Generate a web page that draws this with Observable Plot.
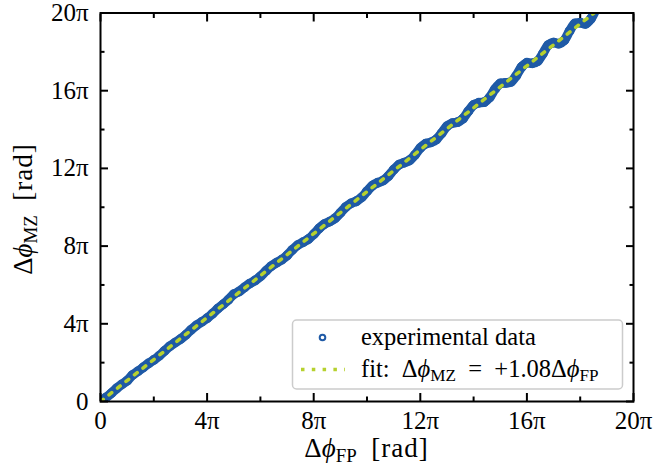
<!DOCTYPE html>
<html><head><meta charset="utf-8">
<script src="https://cdn.jsdelivr.net/npm/d3@7"></script>
<script src="https://cdn.jsdelivr.net/npm/@observablehq/plot@0.6"></script>
<style>body{margin:0;background:#fff;}</style>
</head><body><div id="chart"></div>
<script>
// Δφ_FP values (units of π)
const xFP = [0,0.2,0.4,0.6,0.8,1.0,1.2,1.4,1.6,1.8,2.0,2.2,2.4,2.6,2.8,3.0,3.2,3.4,3.6,3.8,
  4.0,4.2,4.4,4.6,4.8,5.0,5.2,5.4,5.6,5.8,6.0,6.2,6.4,6.6,6.8,7.0,7.2,7.4,7.6,7.8,
  8.0,8.2,8.4,8.6,8.8,9.0,9.2,9.4,9.6,9.8,10.0,10.2,10.4,10.6,10.8,11.0,11.2,11.4,11.6,11.8,
  12.0,12.2,12.4,12.6,12.8,13.0,13.2,13.4,13.6,13.8,14.0,14.2,14.4,14.6,14.8,15.0,15.2,15.4,15.6,15.8,
  16.0,16.2,16.4,16.6,16.8,17.0,17.2,17.4,17.6,17.8,18.0,18.2,18.4,18.6];
// Δφ_MZ values (units of π)
const yMZ = [0.00,0.20,0.42,0.67,0.88,1.07,1.36,1.55,1.75,1.96,2.14,2.35,2.60,2.84,3.03,3.21,3.43,3.69,3.92,4.10,
  4.29,4.52,4.78,5.00,5.24,5.52,5.66,5.87,6.07,6.23,6.44,6.71,6.96,7.14,7.30,7.52,7.81,8.05,8.20,8.36,
  8.61,8.91,9.13,9.26,9.43,9.71,10.01,10.20,10.31,10.51,10.82,11.11,11.26,11.37,11.60,11.93,12.19,12.30,12.42,12.70,
  13.05,13.27,13.34,13.49,13.81,14.17,14.33,14.38,14.56,14.94,15.27,15.38,15.41,15.65,16.08,16.37,16.40,16.45,16.77,17.22,
  17.44,17.41,17.51,17.91,18.35,18.48,18.42,18.59,19.07,19.46,19.50,19.44,19.70,20.23];
const fitSlope = 1.08;
const fitRange = [0, 20];
const majorTicks = [0, 4, 8, 12, 16, 20];
const minorTicks = [2, 6, 10, 14, 18];
const tickLabel = d => d === 0 ? "0" : `${d}π`;

const data = xFP.map((x, i) => ({x, y: yMZ[i]}));
const fit = fitRange.map(x => ({x, y: fitSlope * x}));

const blue = "#1f5aa6", lime = "#b6d12e";
const dash = "3.5,7.3";
const serif = "'Liberation Serif', 'DejaVu Serif', serif";

const plot = Plot.plot({
  width: 655, height: 476,
  marginLeft: 100, marginRight: 22, marginTop: 12.5, marginBottom: 75,
  style: {fontFamily: serif, fontSize: "25px", background: "white", color: "black"},
  x: {domain: [0, 20]},
  y: {domain: [0, 20]},
  marks: [
    Plot.line(data, {x: "x", y: "y", stroke: blue, strokeWidth: 9.5, curve: "catmull-rom", clip: true}),
    Plot.dot(data, {x: "x", y: "y", r: 3.7, stroke: blue, strokeWidth: 2.4, fill: "none", clip: true}),
    Plot.line(fit, {x: "x", y: "y", stroke: lime, strokeWidth: 3.5, strokeDasharray: dash, clip: true}),
    Plot.axisX({ticks: majorTicks, anchor: "bottom", tickSize: -8, tickFormat: () => "", label: null, strokeWidth: 2}),
    Plot.axisX({ticks: minorTicks, anchor: "bottom", tickSize: -4.5, tickFormat: () => "", label: null, strokeWidth: 2}),
    Plot.axisX({ticks: majorTicks, anchor: "top", tickSize: -8, tickFormat: () => "", label: null, strokeWidth: 2}),
    Plot.axisX({ticks: minorTicks, anchor: "top", tickSize: -4.5, tickFormat: () => "", label: null, strokeWidth: 2}),
    Plot.axisY({ticks: majorTicks, anchor: "left", tickSize: -8, tickFormat: () => "", label: null, strokeWidth: 2}),
    Plot.axisY({ticks: minorTicks, anchor: "left", tickSize: -4.5, tickFormat: () => "", label: null, strokeWidth: 2}),
    Plot.axisY({ticks: majorTicks, anchor: "right", tickSize: -8, tickFormat: () => "", label: null, strokeWidth: 2}),
    Plot.axisY({ticks: minorTicks, anchor: "right", tickSize: -4.5, tickFormat: () => "", label: null, strokeWidth: 2}),
    Plot.axisX({ticks: majorTicks, anchor: "bottom", tickSize: 0, tickPadding: 10, tickFormat: tickLabel, label: null}),
    Plot.axisY({ticks: majorTicks, anchor: "left", tickSize: 0, tickPadding: 12, tickFormat: tickLabel, label: null}),
    Plot.frame({stroke: "black", strokeWidth: 2})
  ]
});
document.getElementById("chart").appendChild(plot);

const svg = d3.select(plot);
function mathLabel(sel, sub) {
  sel.append("tspan").text("Δ");
  sel.append("tspan").attr("font-style", "italic").text("ϕ");
  sel.append("tspan").attr("font-size", "0.7em").attr("dy", "0.25em").text(sub);
}
// x label
const xl = svg.append("text").attr("x", 366.5).attr("y", 457).attr("text-anchor", "middle")
  .attr("font-family", serif).attr("font-size", 27).attr("fill", "black");
mathLabel(xl, "FP");
xl.append("tspan").attr("dy", "-0.175em").attr("letter-spacing", "1px").text("\u2002[rad]");
// y label
const yl = svg.append("text").attr("transform", "translate(32,209) rotate(-90)").attr("text-anchor", "middle")
  .attr("font-family", serif).attr("font-size", 27).attr("fill", "black");
mathLabel(yl, "MZ");
yl.append("tspan").attr("dy", "-0.175em").attr("letter-spacing", "1px").text("\u2002[rad]");

// legend
const lg = svg.append("g").attr("text-anchor", "start").attr("font-family", serif);
lg.append("rect").attr("x", 292.5).attr("y", 320).attr("width", 330).attr("height", 69).attr("rx", 4)
  .attr("fill", "white").attr("fill-opacity", 0.85).attr("stroke", "#cccccc").attr("stroke-width", 1.5);
lg.append("circle").attr("cx", 322.5).attr("cy", 337.5).attr("r", 2.8)
  .attr("fill", "none").attr("stroke", blue).attr("stroke-width", 2);
lg.append("line").attr("x1", 301).attr("x2", 345).attr("y1", 369.5).attr("y2", 369.5)
  .attr("stroke", lime).attr("stroke-width", 3.5).attr("stroke-dasharray", dash);
lg.append("text").attr("x", 361).attr("y", 345).attr("text-anchor", "start").attr("font-size", 24.5)
  .attr("fill", "black").text("experimental data");
const ft = lg.append("text").attr("x", 361).attr("y", 377).attr("text-anchor", "start").attr("font-size", 24.5)
  .attr("fill", "black");
ft.append("tspan").text("fit:\u2002");
mathLabel(ft, "MZ");
ft.append("tspan").attr("dy", "-0.175em").text("\u2002=\u2002+1.08");
mathLabel(ft, "FP");
</script>
</body></html>
